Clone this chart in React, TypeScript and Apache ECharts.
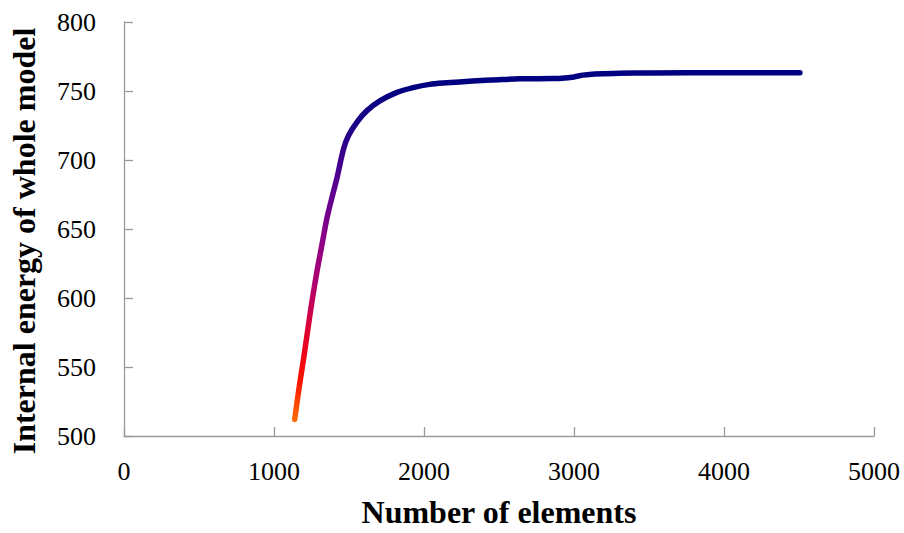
import React, { useEffect, useRef } from "react";
import * as echarts from "echarts";

const elements = [1138, 1166, 1200, 1232, 1254, 1287, 1320, 1353, 1388, 1419, 1464, 1497, 1552, 1618, 1706, 1816, 1927, 2037, 2150, 2324, 2500, 2635, 2853, 2920, 3000, 3060, 3140, 3300, 3514, 4000, 4506];
const energy = [512, 534, 558, 582, 598.1, 619.6, 638.7, 657.9, 673.5, 686.6, 708.1, 717.7, 727.3, 735.6, 742.8, 748.8, 752.4, 754.8, 755.9, 757.2, 758.2, 758.8, 759, 759.2, 760.2, 761.5, 762.4, 762.8, 763.1, 763.2, 763.2];
const xTicks = [0, 1000, 2000, 3000, 4000, 5000];
const yTicks = [500, 550, 600, 650, 700, 750, 800];

export default function App() {
  const ref = useRef<HTMLDivElement>(null);
  useEffect(() => {
    document.body.style.margin = "0";
    if (!ref.current) return;
    const chart = echarts.init(ref.current, null, { renderer: "svg" });
    const font = "'Liberation Serif', 'Times New Roman', serif";
    const axisColor = "#9a9a9a";
    chart.setOption({
      animation: false,
      grid: { left: 118.7, right: 30, top: 22, bottom: 93, containLabel: false },
      visualMap: {
        show: false,
        type: "continuous",
        dimension: 1,
        min: 505,
        max: 750,
        inRange: {
          color: ["#ff8000", "#ff1000", "#e00030", "#b00070", "#880088", "#5a0090", "#2a008a", "#000080"],
        },
      },
      xAxis: {
        type: "value",
        min: xTicks[0],
        max: xTicks[xTicks.length - 1],
        interval: 1000,
        name: "Number of elements",
        nameLocation: "middle",
        nameGap: 60,
        nameTextStyle: { fontFamily: font, fontSize: 32, fontWeight: "bold", color: "#000" },
        axisLine: { show: true, lineStyle: { color: axisColor, width: 1.3 } },
        axisTick: { show: true, inside: true, length: 9, lineStyle: { color: axisColor, width: 1.3 } },
        axisLabel: { fontFamily: font, fontSize: 26, color: "#000", margin: 22, formatter: (v: number) => String(v) },
        splitLine: { show: false },
      },
      yAxis: {
        type: "value",
        min: yTicks[0],
        max: yTicks[yTicks.length - 1],
        interval: 50,
        name: "Internal energy of whole model",
        nameLocation: "middle",
        nameGap: 84,
        nameTextStyle: { fontFamily: font, fontSize: 32, fontWeight: "bold", color: "#000", padding: [0, 24, 0, 0] },
        axisLine: { show: true, lineStyle: { color: axisColor, width: 1.3 } },
        axisTick: { show: true, inside: true, length: 9, lineStyle: { color: axisColor, width: 1.3 } },
        axisLabel: { fontFamily: font, fontSize: 26, color: "#000", margin: 28, formatter: (v: number) => String(v) },
        splitLine: { show: false },
      },
      series: [
        {
          type: "line",
          data: elements.map((x, i) => [x, energy[i]]),
          smooth: 0.3,
          showSymbol: false,
          symbol: "none",
          lineStyle: { width: 5.5, cap: "round", join: "round" },
        },
      ],
    });
    return () => chart.dispose();
  }, []);
  return <div ref={ref} style={{ width: 904, height: 533 }} />;
}
